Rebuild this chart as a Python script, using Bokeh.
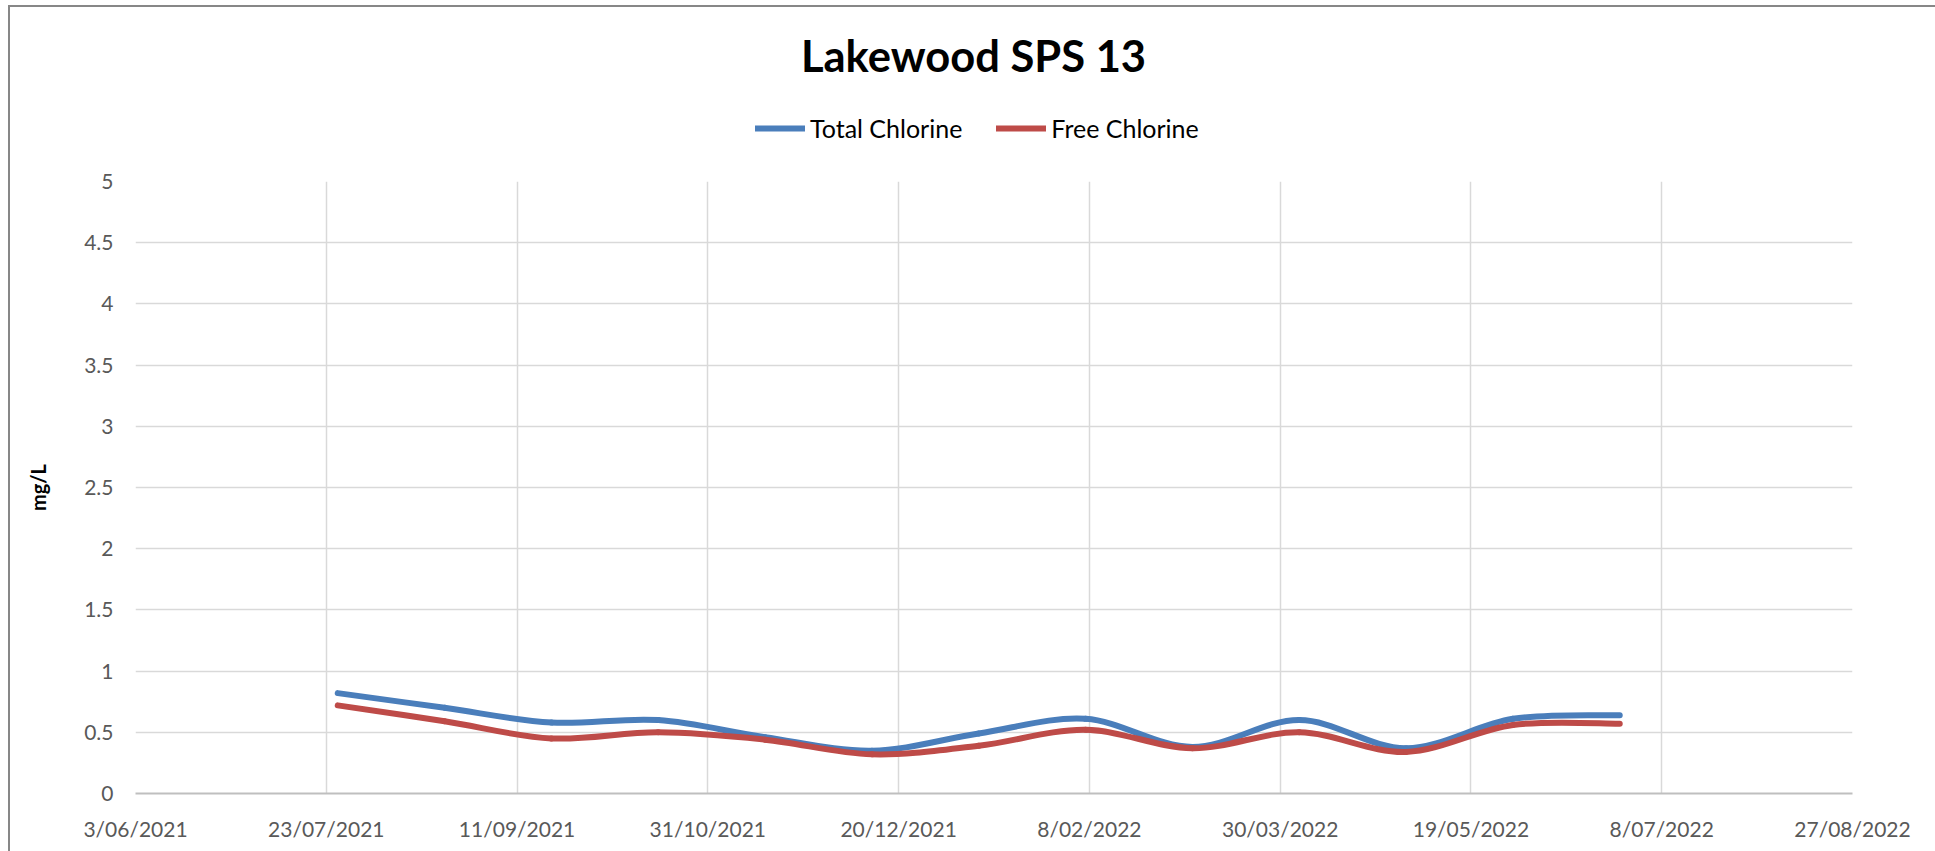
import numpy as np
import pandas as pd
from bokeh.plotting import figure
from bokeh.layouts import column
from bokeh.models import Range1d, FixedTicker, Legend, LegendItem, Label
from bokeh.embed import file_html
from bokeh.resources import INLINE

# ---------------- data ----------------
title_text = "Lakewood SPS 13"
y_axis_title = "mg/L"
series_names = ["Total Chlorine", "Free Chlorine"]
series_colors = ["#4A7EBB", "#BE4B48"]

sample_dates = ["26/07/2021", "23/08/2021", "20/09/2021", "18/10/2021", "15/11/2021",
                "13/12/2021", "10/01/2022", "7/02/2022", "7/03/2022", "4/04/2022",
                "2/05/2022", "30/05/2022", "27/06/2022"]
total_chlorine = [0.82, 0.70, 0.58, 0.60, 0.46, 0.35, 0.49, 0.61, 0.38, 0.60, 0.37, 0.61, 0.64]
free_chlorine = [0.72, 0.59, 0.45, 0.50, 0.44, 0.32, 0.39, 0.52, 0.37, 0.50, 0.34, 0.56, 0.57]

x_tick_labels = ["3/06/2021", "23/07/2021", "11/09/2021", "31/10/2021", "20/12/2021",
                 "8/02/2022", "30/03/2022", "19/05/2022", "8/07/2022", "27/08/2022"]
y_tick_values = [0, 0.5, 1, 1.5, 2, 2.5, 3, 3.5, 4, 4.5, 5]
y_tick_labels = ["0", "0.5", "1", "1.5", "2", "2.5", "3", "3.5", "4", "4.5", "5"]

# ---------------- helpers ----------------
tick_dates = pd.to_datetime(x_tick_labels, format="%d/%m/%Y")
origin = tick_dates[0]
x_ticks = [int((d - origin).days) for d in tick_dates]
xs = np.array([(d - origin).days for d in pd.to_datetime(sample_dates, format="%d/%m/%Y")], float)
series_values = [total_chlorine, free_chlorine]


def smooth_segments(x, y):
    """Bezier control points for a Catmull-Rom style smoothed line (like Excel's smoothed line)."""
    x = np.asarray(x, float)
    y = np.asarray(y, float)
    xp = np.concatenate([[x[0]], x, [x[-1]]])
    yp = np.concatenate([[y[0]], y, [y[-1]]])
    n = len(x)
    i = np.arange(n - 1)
    return dict(
        x0=xp[i + 1], y0=yp[i + 1], x1=xp[i + 2], y1=yp[i + 2],
        cx0=xp[i + 1] + (xp[i + 2] - xp[i]) / 6.0, cy0=yp[i + 1] + (yp[i + 2] - yp[i]) / 6.0,
        cx1=xp[i + 2] - (xp[i + 3] - xp[i + 1]) / 6.0, cy1=yp[i + 2] - (yp[i + 3] - yp[i + 1]) / 6.0,
    )


FONT = "Lato"
W = 1925
H_HEAD = 160
LINE_W = 6

# ---------------- header: title + legend (frame aligned with the chart frame) ----------------
header = figure(width=W, height=H_HEAD, output_backend="svg", toolbar_location=None,
                x_range=Range1d(0, 1), y_range=Range1d(0, 1),
                x_axis_type=None, y_axis_type=None,
                min_border_left=0, min_border_right=0, min_border_top=0, min_border_bottom=0)
header.outline_line_color = None
header.background_fill_color = "white"
header.border_fill_color = "white"

header.add_layout(Label(x=838, y=113, x_units="screen", y_units="screen", text=title_text,
                        text_align="center", text_baseline="middle", text_font=FONT,
                        text_font_style="bold", text_font_size="43.5px", text_color="black"))

# hidden proxies (same series, not visible) so that the legend can draw its swatches
proxies = [header.line(x=xs, y=vals, line_color=c, line_width=LINE_W, line_cap="round", visible=False)
           for vals, c in zip(series_values, series_colors)]
legend = Legend(items=[LegendItem(label=n, renderers=[r]) for n, r in zip(series_names, proxies)],
                orientation="horizontal", location=(620, 24),
                padding=0, margin=0, spacing=34, label_standoff=5,
                glyph_width=50, glyph_height=30,
                label_text_font=FONT, label_text_font_size="25px", label_text_color="black",
                border_line_color=None, background_fill_alpha=0)
header.add_layout(legend, "center")

# ---------------- main chart ----------------
p = figure(width=W, height=844 - H_HEAD, output_backend="svg", toolbar_location=None, title=None,
           x_range=Range1d(x_ticks[0], x_ticks[-1]), y_range=Range1d(0, 5),
           min_border_left=125, min_border_right=83, min_border_top=14, min_border_bottom=58)
p.outline_line_color = None
p.background_fill_color = "white"
p.border_fill_color = "white"

p.xaxis.ticker = FixedTicker(ticks=x_ticks)
p.xaxis.major_label_overrides = {t: lab for t, lab in zip(x_ticks, x_tick_labels)}
p.yaxis.ticker = FixedTicker(ticks=y_tick_values)
p.yaxis.major_label_overrides = {t: lab for t, lab in zip(y_tick_values, y_tick_labels)}

for ax in (p.xaxis[0], p.yaxis[0]):
    ax.major_tick_line_color = None
    ax.minor_tick_line_color = None
    ax.major_tick_out = 0
    ax.major_tick_in = 0
    ax.major_label_text_font = FONT
    ax.major_label_text_font_size = "21px"
    ax.major_label_text_color = "#595959"

p.xaxis.axis_line_color = "#BFBFBF"
p.xaxis.axis_line_width = 2
p.xaxis.major_label_standoff = 22
p.yaxis.axis_line_color = None
p.yaxis.major_label_standoff = 22
p.yaxis.axis_label = y_axis_title
p.yaxis.axis_label_text_font = FONT
p.yaxis.axis_label_text_font_style = "bold"
p.yaxis.axis_label_text_font_size = "20px"
p.yaxis.axis_label_text_color = "black"
p.yaxis.axis_label_standoff = 31

p.xgrid.grid_line_color = "#D9D9D9"
p.ygrid.grid_line_color = "#D9D9D9"
p.xgrid.grid_line_width = 1.5
p.ygrid.grid_line_width = 1.5

for vals, color in zip(series_values, series_colors):
    seg = smooth_segments(xs, vals)
    p.bezier(x0="x0", y0="y0", x1="x1", y1="y1", cx0="cx0", cy0="cy0", cx1="cx1", cy1="cy1",
             source=seg, line_color=color, line_width=LINE_W, line_cap="round")

page = column(header, p, spacing=0)
page.styles = {"margin-left": "8px", "margin-top": "5px",
               "border-left": "2px solid #878787", "border-top": "2px solid #878787"}

open("out.html", "w").write(file_html(page, INLINE))
